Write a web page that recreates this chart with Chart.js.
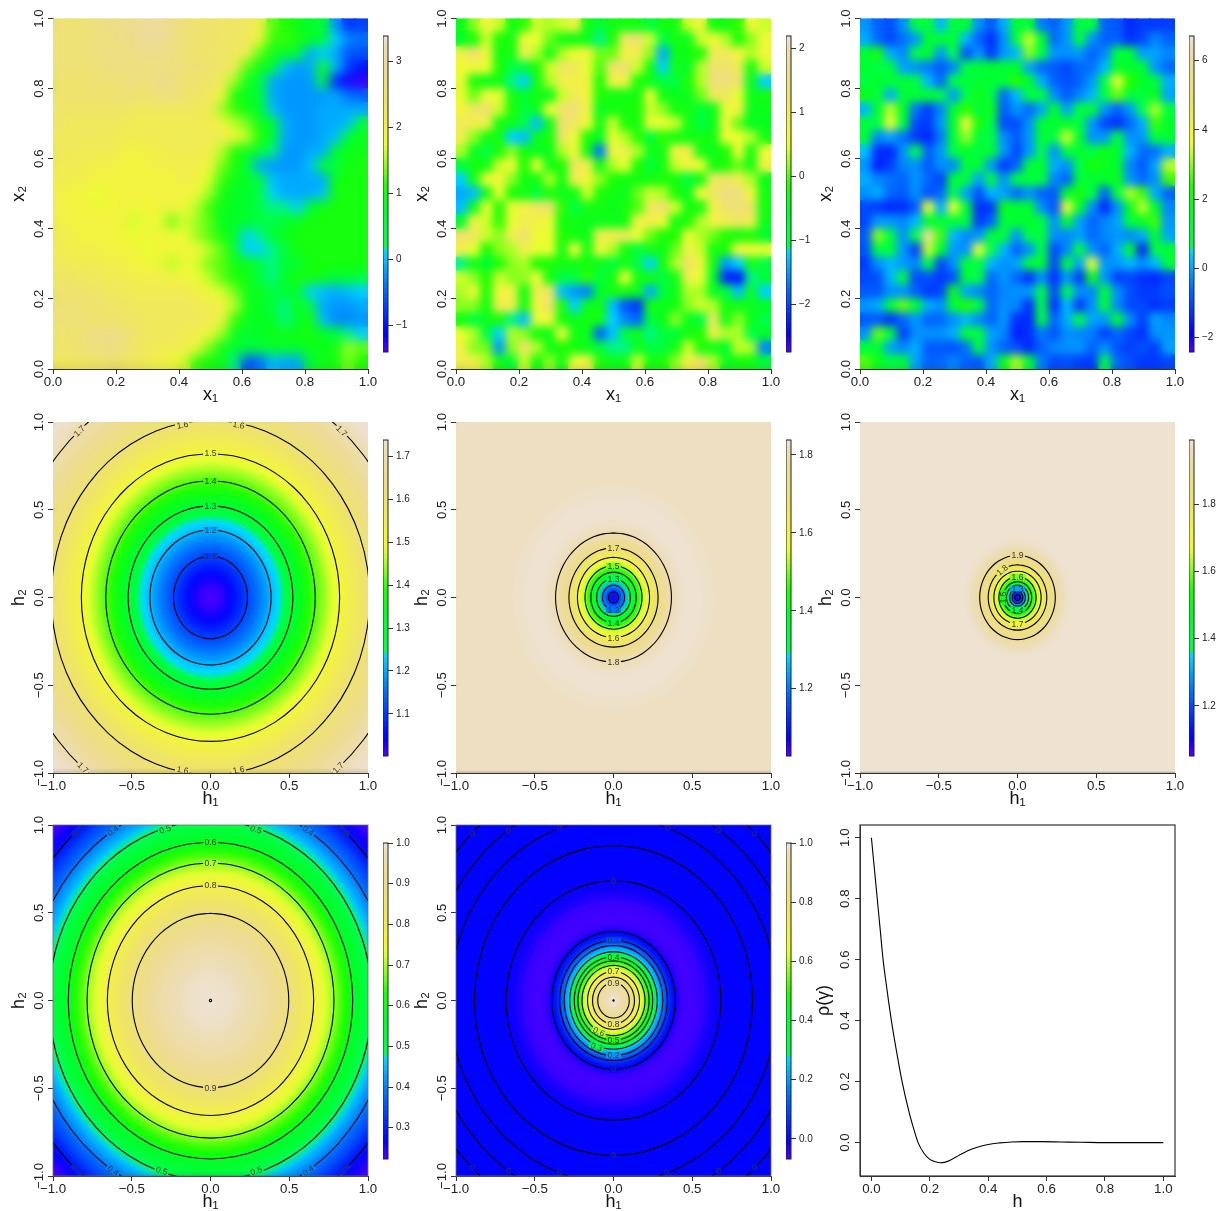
<!DOCTYPE html>
<html>
<head>
<meta charset="utf-8">
<title>Random fields and correlation surfaces</title>
<script src="https://cdn.jsdelivr.net/npm/chart.js@4/dist/chart.umd.js"></script>
<style>
  html, body { margin: 0; background: #fff; }
  #page { position: relative; width: 1222px; height: 1211px; overflow: hidden; }
  canvas { position: absolute; }
</style>
</head>
<body>
<div id="page"></div>
<script>
// colour ramp of the legends: [position, colour]
const rampStops = [
  [0, '#4C00FF'], [0.02, '#3A00FF'], [0.06, '#0000FF'], [0.2, '#006BFF'], [0.332, '#00E0FF'],
  [0.334, '#00FF4D'], [0.45, '#00FF28'], [0.53, '#20FF00'], [0.6, '#90FF20'], [0.66, '#E8FF30'],
  [0.7, '#F2F53C'], [0.8, '#EFE468'], [0.9, '#EDDC90'], [0.97, '#EDDDB2'], [0.984, '#EEDFC2'], [1, '#EEE2D0']
];

// top row: fields, rows from x2=1 down to x2=0
const field1 = [
  [2.6,2.6,2.6,2.7,2.8,2.8,2.9,3.0,3.0,2.8,2.6,2.5,2.5,2.4,2.4,2.3,2.1,1.3,1.1,.9,.7,.6,-.2,-.8,-.7],
  [2.6,2.6,2.6,2.7,2.7,2.8,2.9,3.0,3.0,2.8,2.6,2.5,2.5,2.4,2.4,2.3,1.9,1.2,1.2,1.0,.8,.6,.1,-.3,-.4],
  [2.6,2.6,2.6,2.7,2.7,2.7,2.7,2.8,2.8,2.7,2.6,2.5,2.4,2.4,2.3,2.1,1.3,.9,.8,.5,-.1,.1,-.1,-.6,-.6],
  [2.6,2.6,2.6,2.6,2.7,2.7,2.7,2.7,2.7,2.7,2.6,2.6,2.5,2.4,2.2,1.3,.9,.6,0,-.2,-.1,.9,0,-.7,-1.0],
  [2.5,2.5,2.5,2.6,2.6,2.6,2.7,2.6,2.8,2.8,2.5,2.5,2.4,2.2,1.5,.9,.3,-.1,-.2,-.2,-.2,.3,-.9,-1.2,-1.3],
  [2.5,2.5,2.5,2.5,2.5,2.6,2.6,2.5,2.7,2.7,2.5,2.4,2.3,2.0,1.1,.8,.6,-.1,-.2,-.2,-.2,-.2,-.1,-.4,-.5],
  [2.5,2.4,2.4,2.4,2.4,2.4,2.3,2.3,2.3,2.3,2.3,2.3,2.2,1.5,1.2,.9,.7,0,-.2,-.2,-.2,-.1,-.1,-.1,-.1],
  [2.4,2.3,2.3,2.3,2.3,2.3,2.2,2.2,2.2,2.2,2.2,2.2,2.2,2.0,1.6,1.4,.9,.6,-.1,-.2,-.2,-.1,-.1,0,.5],
  [2.3,2.3,2.3,2.3,2.3,2.2,2.2,2.2,2.2,2.2,2.2,2.2,2.2,2.2,1.9,1.6,1.1,.6,-.1,-.2,-.2,-.1,0,.6,.9],
  [2.3,2.3,2.2,2.2,2.2,2.1,2.0,2.1,2.1,2.2,2.2,2.2,2.1,1.6,1.1,.9,.6,.2,-.2,-.2,-.1,-.1,.7,.9,.9],
  [2.2,2.2,2.2,2.1,2.1,2.0,1.9,2.0,2.1,2.1,2.1,2.1,2.0,1.4,1.1,.4,-.1,-.2,-.2,-.2,0,.7,.3,1,1],
  [2.2,2.2,2.1,2.0,2.0,2.0,2.0,2.0,2.0,2.0,2.1,2.0,1.7,1.2,.9,.8,.3,0,-.1,-.1,-.1,-.1,.9,1,1],
  [2.1,2.0,1.9,1.8,1.9,2.0,2.0,2.0,2.0,2.0,2.0,1.9,1.5,1.0,.8,.7,.3,.1,-.1,-.1,-.1,0,1,1,1],
  [2.1,2.0,2.0,1.9,1.9,2.0,1.9,1.9,2.0,2.0,1.9,1.6,1.2,.9,.8,.7,.3,.2,.2,.1,.6,1,1,1,1],
  [2.1,2.0,2.0,2.0,2.0,2.0,1.7,1.9,1.8,1.4,1.7,1.5,1.3,.8,.8,.7,.4,.3,.7,.9,1,1,1,1,1],
  [2.2,2.1,2.0,2.0,2.0,1.9,1.8,1.9,1.9,1.9,1.8,1.5,1.3,1.0,.7,.1,.2,.6,.9,1,1,1,1,1,1],
  [2.2,2.1,2.1,2.1,2.0,2.0,1.9,1.8,1.9,1.9,1.9,1.9,1.6,1.3,.6,.1,.1,.2,.4,1,1,1,1,1,1],
  [2.3,2.2,2.2,2.2,2.1,2.1,2.0,1.9,1.9,1.6,1.9,1.7,1.4,1.3,.9,.9,.4,.2,.7,.6,1,1,1,1,1],
  [2.4,2.4,2.3,2.3,2.2,2.2,2.1,2.1,2.1,2.0,2.0,1.8,1.6,1.3,1.1,.9,.3,.2,.8,1,1,.9,.5,.7,.3],
  [2.5,2.5,2.5,2.4,2.3,2.3,2.2,2.2,2.2,2.2,2.2,2.1,1.9,1.7,1.4,.9,.9,.3,.6,.7,.1,0,-.1,0,.1],
  [2.6,2.6,2.5,2.5,2.4,2.4,2.3,2.3,2.3,2.3,2.3,2.2,2.2,2.0,1.6,.9,.8,.5,.2,.9,.3,-.1,-.2,-.2,-.1],
  [2.6,2.6,2.6,2.5,2.5,2.4,2.4,2.3,2.3,2.3,2.3,2.3,2.2,2.0,1.2,.9,.8,.8,.2,.7,1.0,0,-.3,-.3,-.2],
  [2.5,2.5,2.6,2.7,2.8,2.7,2.4,2.3,2.3,2.3,2.2,2.1,1.9,1.5,.9,.6,.8,.9,.9,.9,1,.8,.5,.2,.1],
  [2.5,2.5,2.6,2.7,2.8,2.7,2.4,2.3,2.2,2.2,2.1,2.0,1.4,.9,.6,.5,.5,.8,.8,.8,.9,.9,.9,1.5,1.3],
  [2.3,2.3,2.4,2.4,2.5,2.4,2.3,2.2,2.1,1.9,1.7,1.2,1.0,.9,.2,-.6,-.4,0,-.1,-.1,.6,.9,1,1.4,1.1]
];
const field2 = [
  [-.4,.2,.7,.4,-.3,-.1,.4,.3,.4,.8,-.3,-.8,-.3,-.3,-.3,-.9,-.3,-.3,.4,.7,-.3,-.3,-.1,.7,.4],
  [-.5,-.2,.4,-.2,-.3,.6,.5,.1,-.3,-.3,-.4,-1.1,-.2,1.1,1.3,.4,-1.0,-.3,-.4,.4,.6,.3,-.2,.2,.6],
  [.8,1.3,.7,-.3,-.3,.9,.3,-.3,.3,.5,.7,.1,.1,.8,.9,.2,-1.4,-.4,-.3,-.2,1.0,1.0,.7,.3,.7],
  [.6,.7,.5,-.2,-1.0,-.9,-.2,.4,1.1,1.1,.5,0,1.2,1.3,.4,-.3,-1.2,-.3,-.5,.3,1.3,1.3,1.0,-.3,.4],
  [.6,-.2,-.4,-.3,-1.1,-1.2,-.3,.3,.9,.8,.7,-.2,.8,.8,-.2,-.4,-.9,-1.0,-.2,.3,1.4,1.4,1.3,-.4,-1.2],
  [.5,.1,.6,.5,-.3,-.6,-.3,-.4,.4,1.0,.7,-.2,-.3,-.3,-.3,.5,-.3,-.4,-.4,.1,1.0,1.1,.5,-.4,-.3],
  [.7,1.1,1.3,.4,-.2,-.9,-.4,.5,1.2,1.4,.8,-.4,-.3,-.3,-.2,.4,.2,-.3,-.3,-.7,-.4,.5,.8,-.4,-.4],
  [1.0,.9,.8,-.3,-.4,-1.0,-1.3,-.3,1.3,1.1,.6,-.3,.4,-.2,-.3,.5,.5,.4,-.3,-1.0,-.4,.7,.1,-.5,-.4],
  [.9,.2,-.3,-.3,-1.2,-1.3,-.4,-.3,1.2,.6,-.2,-.5,.5,.3,-.1,-.9,-.1,-.3,-.3,-.3,-.3,.6,.5,.3,-.3],
  [.3,-.4,-1.0,-.2,.2,-.3,-.4,-.4,.3,.7,-.3,-1.7,.6,.9,.3,-.4,-.3,.8,.9,-.3,-.4,-.2,.6,-.3,.6],
  [-.9,-.3,-.3,.4,.6,-.2,.5,-.3,-.2,1.1,.9,-.3,.3,.5,-.2,-.8,-.3,.4,.7,.5,-.3,-.2,.1,-.3,.8],
  [-1.2,-.3,.5,.7,.2,-.3,-.3,.3,-.3,.9,.7,.2,-.2,-.3,-.3,-.3,-.2,-.3,-.9,-.3,1.0,1.2,.9,.3,-.4],
  [-1.4,-1.3,-.3,.5,-.2,-.3,-.9,-.2,-.4,-.3,.4,-.2,-.3,-.4,.1,.4,.3,-.2,-.4,.6,1.1,1.5,1.5,.7,-.3],
  [-1.3,-.4,.5,-.2,.6,.8,1.1,1.3,-.1,-1.0,-.3,-.3,-.4,-.3,0,1.0,1.3,.4,-.3,-.3,.8,1.3,1.4,1.2,-.3],
  [-.6,.8,.4,-.1,.5,.9,.8,.6,-.3,-.3,-.4,-.4,-.4,-.3,.8,.9,.6,-.3,-.2,.3,.8,.9,1.1,.9,-.4],
  [1.2,1.1,.4,.2,.9,1.3,.6,.6,-.2,-.3,-.4,.9,.9,1.0,.5,.1,-.2,-.2,.5,.3,.1,-.2,-.3,-.2,-.6],
  [.9,.5,-.2,.2,.3,.9,.5,.5,-.3,.6,-.3,.7,.3,-.3,-.9,-.3,-.4,.1,.8,.4,-.3,-.2,.7,.6,.5],
  [-1.1,-.3,-.7,-.2,.2,.3,-.2,-.2,-.3,-.3,-.3,-.4,-.9,-.3,-1.0,-1.2,-.3,.3,1.2,.7,-.3,-1.5,-1.2,-.3,-1.0],
  [.4,.2,-.2,.4,.2,.2,.6,-.3,-1.0,-.9,-.1,-.9,-.3,.5,-.3,-.3,-.9,-.3,.9,.5,-.5,-2.2,-2.3,-1.1,-.7],
  [.3,.6,-.2,.7,.8,-.3,.9,1.1,-1.3,-1.5,-1.6,-.6,-.3,-.3,-.4,-1.4,-.8,-.4,.3,.3,-.4,-.9,-1.3,-.4,-1.2],
  [.2,.2,-.3,.9,.9,-.3,.7,1.3,-.2,-1.2,-.4,-.3,-1.3,-1.9,-2.1,-.3,-.4,-.3,.2,.4,.3,-.3,-.3,-.4,-.5],
  [-.3,-.9,-.4,-.2,-1.1,-1.3,.5,.7,-.3,-.4,-.3,-.3,-1.2,-1.6,-1.8,-.8,-.4,.2,-.4,-.9,1.1,-.3,.2,-.4,-1.0],
  [.5,.3,-.9,-1.2,.3,.2,-.3,-.3,.6,-.3,-.4,-1.8,-1.3,-.9,-.4,-1.1,-.8,-.7,-.3,-.2,.9,.3,.3,-1.0,-.5],
  [.8,.2,.1,-1.5,.2,1.2,.3,-.3,-.2,-.3,-.4,-.8,-1.1,-1.1,-.4,-.9,-.9,-.3,.4,-.2,-.3,-.6,.4,.3,-1.6],
  [.9,.8,.3,-.3,-.7,.4,-.3,.2,-.3,.6,.8,-.2,-.4,-.3,.4,-.3,-.2,.2,.8,1.2,.3,-.4,-.3,-.3,-.8]
];
const field3 = [
  [-.1,-.7,-.9,-.2,.9,1.2,.2,1.1,1.2,-.2,-.8,.1,1.2,1.3,-.4,-.7,-.1,1.2,.9,-.7,-.8,-1.4,-1.1,-1.2,-1.1],
  [.1,-.6,-1.0,-.5,-.1,1.4,1.3,1.3,.2,-.7,-1.3,-.2,1.1,3.4,1.6,-.6,-.1,1.0,-.2,-.7,-.7,-1.3,-1.0,-.3,-.7],
  [1.3,2.2,.1,-.3,1.0,1.6,-.1,.7,-.9,-.1,-1.2,-.1,.2,3.0,.7,-.1,-.2,-.1,-.7,-.3,1.1,1.4,0,0,-.3],
  [1.4,.8,1.2,0,-.2,-.4,-.8,-.3,.9,1.4,1.5,1.4,1.6,0,-.6,-.8,-1.0,-.6,-.5,.2,1.8,1.5,1.4,-.1,-.6],
  [1.1,1.5,1.2,1.3,.9,.2,-.6,.8,1.2,1.3,1.4,1.3,2.4,1.5,.1,-.7,-.9,-.7,-.1,.9,3.6,2.4,1.6,1.2,.1],
  [2.0,1.3,.1,1.4,1.3,1.4,1.0,-.1,.8,2.0,1.1,-.6,.2,1.0,1.2,-.2,-.8,-.3,.2,1.1,2.8,1.3,1.0,1.8,0],
  [.2,1.5,3.3,1.7,-.5,-1.1,-.3,1.4,2.5,1.2,2.0,-.8,-.1,-.6,0,1.7,0,1.0,1.4,-.1,-.7,-.1,.7,3.2,1.1],
  [1.2,.9,3.7,.9,-1.0,-1.2,-.1,1.6,3.9,2.2,.9,-1.0,-.9,-.2,1.3,1.6,1.5,1.1,-.1,-1.0,-1.3,-.6,.1,2.6,1.5],
  [1.3,-.3,0,-.5,-1.2,-1.4,-.4,1.2,3.1,1.2,.8,-.2,-.8,-.1,1.4,.9,3.4,1.5,-.2,-.1,1.1,-.2,-.1,1.0,1.5],
  [.3,-1.3,-1.4,-.2,.7,-.7,-.1,.9,1.6,1.1,1.6,-.1,-1.0,-.1,.7,-.2,1.2,1.3,1.1,2.0,1.6,.2,-.6,-.5,.1],
  [-.1,-1.5,-1.1,-.3,-.2,-.8,-.2,-.3,1.1,1.3,-.1,-1.2,-.7,1.1,1.6,.1,-.2,.9,2.2,1.9,1.5,-.3,-.8,0,3.3],
  [.1,-.3,-.5,-.7,-.1,-.6,-1.1,1.3,1.1,0,1.2,-.2,.9,1.3,1.1,-.3,-.7,1.2,1.4,1.6,2.0,-.1,-.6,-.2,2.6],
  [-.2,.1,-.6,-.8,-.2,-.9,-.6,.8,0,-.9,.2,0,-.6,-.2,-.7,-.8,1.4,2.2,.9,-.7,1.0,3.2,2.6,.1,-.7],
  [-1.0,-1.2,-1.4,-1.3,-.8,3.6,.1,3.6,1.3,-1.3,-1.2,1.9,1.4,1.5,-.2,-.9,3.9,1.8,-.2,-1.4,-.2,1.8,3.3,1.6,-.3],
  [-1.0,-.1,-.1,-.3,.2,1.6,1.2,1.2,.9,-1.2,-.7,1.2,1.5,1.6,1.0,-.2,1.7,0,-.7,-.3,0,1.2,1.9,2.6,-.1],
  [-.8,3.0,1.0,-.2,.8,6.0,2.6,.2,-.3,-.1,1.2,1.3,-.1,.9,1.2,-.2,-.3,0,-.6,-.3,-.1,-.3,.1,1.4,0],
  [-.9,.9,1.3,-.1,-1.1,3.4,1.5,-.1,-.2,3.7,.7,.2,-.7,-.2,.7,-1.0,-.3,1.0,-.2,-.7,.1,1.6,-1.4,1.0,1.5],
  [-1.2,-.2,.2,-.1,-.3,.9,-1.0,-.2,1.2,1.0,.2,-.2,0,1.2,1.3,-1.0,1.3,0,3.6,-.1,-.1,.2,-.2,.2,1.2],
  [-1.0,-.9,.2,.9,-1.0,-.9,-1.2,-.9,1.3,.8,-.6,-.1,-.6,-1.3,-.2,-1.3,-.1,-1.2,2.0,-.1,-1.1,-1.0,-1.3,-1.4,-1.0],
  [-.8,-.8,-.2,-.2,-.7,-1.2,-1.0,2.0,0,-.3,-.7,-.3,-.2,-.1,1.0,-1.0,.7,-.2,-.3,1.3,-.2,-.9,-1.2,-1.1,-.9],
  [-.1,.1,1.3,2.8,1.4,.1,-.2,1.4,2.4,1.0,-.6,-.2,-.3,-1.3,.7,-1.3,.2,-1.2,-.2,1.2,-.3,-1.0,-1.0,-1.3,-1.1],
  [-.8,-.8,-1.3,-.6,-.1,-.7,-.6,-.2,.2,-.3,-.7,-.1,-1.3,-1.4,.8,-.7,.1,.9,0,-.1,1.5,-.2,-1.1,0,-.3],
  [-.2,2.8,1.0,-1.1,-.2,-.2,-.2,.1,1.4,1.1,0,-.3,-1.5,-1.3,-.4,-.9,-.2,-.3,-.4,-1.1,-.6,-1.0,-1.3,-.2,-.1],
  [1.2,1.5,0,-.3,.1,-.8,-.8,-.9,-.5,.9,-.2,-.7,-.9,-1.4,-.7,-.3,-.2,-.1,-.7,-.2,-.9,-1.1,-.9,-1.1,0],
  [2.7,1.9,1.0,1.2,0,-.7,-.6,-.3,-.7,-.8,.1,1.9,3.2,1.3,-.4,-1.0,-.9,-1.1,-1.2,.7,-.6,-.9,-1.2,-1.2,-1.0]
];

// middle and bottom rows: shaded bands (outer radius, value) and contour radii
const ringX = [0,.1736,.342,.5,.6428,.766,.866,.9397,.9848,1,.9848,.9397,.866,.766,.6428,.5,.342,.1736,0,-.1736,-.342,-.5,-.6428,-.766,-.866,-.9397,-.9848,-1,-.9848,-.9397,-.866,-.766,-.6428,-.5,-.342,-.1736,0];
const ringY = [1,.9848,.9397,.866,.766,.6428,.5,.342,.1736,0,-.1736,-.342,-.5,-.6428,-.766,-.866,-.9397,-.9848,-1,-.9848,-.9397,-.866,-.766,-.6428,-.5,-.342,-.1736,0,.1736,.342,.5,.6428,.766,.866,.9397,.9848,1];

const bandR4 = [1.5,1.4,1.35,1.3,1.25,1.2,1.15,1.1,1.05,1,.95,.9,.85,.8,.76,.72,.68,.64,.6,.56,.52,.48,.452,.44,.4,.36,.32,.28,.24,.2,.16,.12,.08,.04];
const bandV4 = [1.738,1.735,1.725,1.712,1.695,1.675,1.655,1.635,1.615,1.595,1.57,1.545,1.518,1.488,1.46,1.435,1.41,1.382,1.355,1.328,1.298,1.268,1.245,1.238,1.21,1.182,1.156,1.13,1.103,1.078,1.055,1.035,1.02,1.008];
const contourR4 = [.235,.385,.523,.665,.82,1.01,1.265];
const contourText4 = [[0,.235,'1.1',0],[0,.385,'1.2',0],[0,.523,'1.3',0],[0,.665,'1.4',0],[0,.82,'1.5',0],
  [-.178,.983,'1.6',-10],[.178,.983,'1.6',10],[-.178,-.983,'1.6',10],[.178,-.983,'1.6',-10],
  [-.833,.949,'1.7',-45],[.833,.949,'1.7',45],[-.81,-.97,'1.7',45],[.81,-.97,'1.7',-45]];

const bandR5 = [1.5,.635,.6,.57,.52,.48,.44,.41,.38,.35,.33,.31,.29,.27,.25,.23,.21,.19,.17,.15,.13,.11,.09,.07,.05,.03,.015];
const bandV5 = [1.825,1.83,1.832,1.836,1.838,1.837,1.83,1.82,1.805,1.785,1.765,1.745,1.715,1.68,1.645,1.605,1.56,1.52,1.46,1.415,1.365,1.31,1.255,1.2,1.15,1.09,1.05];
const contourR5 = [.032,.07,.107,.144,.181,.229,.283,.368];
const contourText5 = [[0,-.07,'1.2',0],[0,.107,'1.3',0],[0,-.144,'1.4',0],[0,.181,'1.5',0],[0,-.229,'1.6',0],[0,.283,'1.7',0],[0,-.368,'1.8',0]];

const bandR6 = [1.5,.34,.32,.3,.28,.26,.25,.23,.21,.19,.17,.15,.135,.12,.105,.09,.08,.07,.06,.05,.04,.03,.02,.01];
const bandV6 = [1.991,1.985,1.978,1.968,1.955,1.935,1.915,1.885,1.85,1.81,1.765,1.7,1.655,1.605,1.55,1.5,1.45,1.4,1.35,1.3,1.24,1.18,1.11,1.07];
const contourR6 = [.018,.034,.05,.07,.09,.118,.15,.186,.24];
const contourText6 = [[0,.05,'1.3',0],[0,-.07,'1.4',0],[-.09,0,'1.5',-90],[0,.118,'1.6',0],[0,-.15,'1.7',0],[-.097,.156,'1.8',-40],[0,.24,'1.9',0]];

const bandR7 = [1.5,1.41,1.38,1.35,1.32,1.29,1.26,1.23,1.2,1.17,1.14,1.11,1.08,1.05,1.02,.99,.96,.93,.9,.87,.84,.81,.78,.75,.72,.69,.66,.62,.58,.54,.5,.46,.42,.38,.34,.3,.26,.22,.18,.14,.1,.06,.03];
const bandV7 = [.224,.228,.245,.262,.28,.298,.32,.345,.365,.385,.41,.435,.46,.482,.505,.53,.555,.578,.603,.63,.655,.68,.703,.728,.752,.776,.797,.822,.845,.868,.888,.91,.925,.94,.953,.965,.974,.981,.987,.992,.995,.998,1];
const contourR7 = [.007,.497,.655,.784,.903,1.025,1.15,1.287];
const contourText7 = [[0,-.497,'0.9',0],[0,.655,'0.8',0],[0,.784,'0.7',0],[0,.903,'0.6',0],
  [-.288,.975,'0.5',-17],[.288,.975,'0.5',17],[-.31,-.97,'0.5',17],[.29,-.97,'0.5',-17],
  [-.619,.968,'0.4',-35],[.62,.968,'0.4',35],[-.62,-.97,'0.4',35],[.62,-.97,'0.4',-35],
  [-.847,.966,'0.3',-45],[.847,.966,'0.3',45],[-.847,-.966,'0.3',45],[.847,-.966,'0.3',-45]];

const bandR8 = [1.5,.95,.88,.82,.76,.7,.66,.62,.58,.54,.5,.46,.43,.41,.393,.38,.365,.35,.335,.32,.305,.29,.275,.26,.245,.23,.215,.2,.185,.17,.155,.14,.125,.11,.095,.08,.06,.04,.02];
const bandV8 = [-.001,-.001,-.001,-.002,-.004,-.006,-.012,-.025,-.04,-.05,-.052,-.05,-.035,-.018,0,.02,.05,.08,.125,.175,.225,.265,.31,.36,.415,.485,.54,.6,.66,.695,.74,.78,.825,.87,.905,.935,.965,.985,.997];
const contourR8 = [.004,.1,.133,.165,.2,.226,.249,.278,.313,.342,.393,.682,.883,1.041,1.18,1.31];
const contourText8 = [[0,.1,'0.9',0],[0,-.133,'0.8',0],[0,.165,'0.7',0],[-.093,-.178,'0.6',25],[0,-.226,'0.5',0],[0,.249,'0.4',0],
  [-.108,-.264,'0.3',20],[0,-.313,'0.2',0],[0,.342,'0.1',0],[0,-.393,'0',0],[0,.682,'0',0],[0,-.883,'0',0],
  [-.343,.983,'0',-15],[.343,.983,'0',15],[-.343,-.98,'0',15],[.337,-.98,'0',-15],
  [-.667,.97,'0',-35],[.667,.97,'0',35],[-.667,-.97,'0',35],[.667,-.97,'0',-35],
  [-.894,.951,'0',-45],[.894,.951,'0',45],[-.894,-.951,'0',45],[.894,-.951,'0',-45]];

// correlation curve, bottom right
const curveH = [0,.01,.02,.03,.04,.05,.06,.07,.085,.104,.129,.145,.16,.18,.2,.22,.235,.25,.27,.3,.33,.36,.4,.44,.48,.52,.58,.65,.72,.8,.9,1];
const curveRho = [1,.9,.8,.7,.6,.525,.455,.39,.305,.205,.1,.045,0,-.035,-.055,-.063,-.066,-.065,-.058,-.042,-.027,-.016,-.006,-.001,.002,.003,.003,.002,.001,0,0,0];

// legend ranges and ticks
const legendRange = [[-1.41,3.39],[-2.75,2.19],[-2.415,6.71],[1.0016,1.739],[1.027,1.8385],[1.051,1.991],[.223,1],[-.068,1]];
const legendTicks = [[-1,0,1,2,3],[-2,-1,0,1,2],[-2,0,2,4,6],[1.1,1.2,1.3,1.4,1.5,1.6,1.7],[1.2,1.4,1.6,1.8],[1.2,1.4,1.6,1.8],[.3,.4,.5,.6,.7,.8,.9,1],[0,.2,.4,.6,.8,1]];
const legendDigits = [0,0,0,1,1,1,1,1];

const unitTicks = [0,.2,.4,.6,.8,1];
const lagTicks = [-1,-.5,0,.5,1];

const colLeft = [52.5,455.5,859.5];
const rowTop = [18,421.5,825];
const legendLeft = [383,786,1189];
const plotW = 315, plotH = 351;
const textFont = '"Liberation Sans", Arial, sans-serif';
const inkColor = '#222';

Chart.defaults.font.family = textFont;
Chart.defaults.animation = false;
Chart.defaults.events = [];
Chart.defaults.plugins.legend.display = false;
Chart.defaults.plugins.tooltip.enabled = false;

const hexToRgb = h => [1, 3, 5].map(i => parseInt(h.slice(i, i + 2), 16));
const palette = [];
for (let i = 0; i < 256; i++) {
  const t = i / 255;
  let k = 0;
  while (k < rampStops.length - 2 && rampStops[k + 1][0] < t) k++;
  const [p0, c0] = rampStops[k], [p1, c1] = rampStops[k + 1];
  const f = Math.min(1, Math.max(0, (t - p0) / (p1 - p0)));
  const a = hexToRgb(c0), b = hexToRgb(c1);
  palette.push('rgb(' + a.map((v, n) => Math.round(v + (b[n] - v) * f)).join(',') + ')');
}
// the legends show 64 steps of it
const legendColors = palette.filter((c, i) => i % 4 === 2);
const colorOf = (v, range) => {
  const f = (v - range[0]) / (range[1] - range[0]);
  return palette[Math.max(0, Math.min(255, Math.floor(f * 256)))];
};
const minusSign = s => s.replace('-', '\u2212');

function addCanvas(left, top, w, h) {
  const c = document.createElement('canvas');
  c.width = w; c.height = h;
  c.style.left = left + 'px'; c.style.top = top + 'px';
  document.getElementById('page').appendChild(c);
  return c;
}

// softens what has been drawn so far inside the plot, cells and bands only
const softCells = {
  id: 'softCells',
  afterDatasetDraw(chart, args) {
    const b = chart.data.datasets[args.index].soften;
    if (!b) return;
    const a = chart.chartArea, ctx = chart.ctx;
    ctx.save();
    ctx.beginPath();
    ctx.rect(a.left, a.top, a.width, a.height);
    ctx.clip();
    ctx.filter = 'blur(' + b + 'px)';
    ctx.drawImage(chart.canvas, 0, 0);
    ctx.restore();
  }
};

// R style box
const framePlugin = (color, width) => ({
  id: 'frame',
  afterDraw(chart) {
    const a = chart.chartArea, ctx = chart.ctx;
    ctx.save();
    ctx.strokeStyle = color;
    ctx.lineWidth = width;
    ctx.strokeRect(a.left, a.top, a.width, a.height);
    ctx.restore();
  }
});

// contour labels sit on a small patch of the band colour, like the gap in the line
const contourLabelPlugin = (items, range) => ({
  id: 'contourLabels',
  afterDatasetsDraw(chart) {
    const {ctx, chartArea: a, scales} = chart;
    ctx.save();
    ctx.beginPath();
    ctx.rect(a.left, a.top, a.width, a.height);
    ctx.clip();
    ctx.font = '8.5px ' + textFont;
    ctx.textAlign = 'center';
    ctx.textBaseline = 'middle';
    items.forEach(([x, y, text, angle]) => {
      ctx.save();
      ctx.translate(scales.x.getPixelForValue(x), scales.y.getPixelForValue(y));
      ctx.rotate(angle * Math.PI / 180);
      const w = ctx.measureText(text).width + 3;
      ctx.fillStyle = colorOf(parseFloat(text), range);
      ctx.fillRect(-w / 2, -3, w, 6);
      ctx.fillStyle = '#333';
      ctx.fillText(text, 0, 0.5);
      ctx.restore();
    });
    ctx.restore();
  }
});

function axes(xr, yr, xTicks, yTicks, xTitle, yTitle, yPad) {
  const fmt = v => minusSign(v.toFixed(1));
  const common = {
    type: 'linear',
    grid: {drawOnChartArea: false, drawTicks: true, tickLength: 5, color: '#333'},
    border: {display: true, color: '#333', width: 1}
  };
  return {
    x: {...common, min: xr[0], max: xr[1],
      title: {display: true, text: xTitle, color: '#111', font: {size: 18}, padding: {top: 0, bottom: 1}},
      ticks: {color: inkColor, font: {size: 13.3}, padding: 0, maxRotation: 0, minRotation: 0, autoSkip: false, callback: fmt},
      afterBuildTicks: s => { s.ticks = xTicks.map(v => ({value: v})); },
      afterFit: s => { s.height = 38; s.paddingLeft = 0; s.paddingRight = 0; }},
    y: {...common, min: yr[0], max: yr[1],
      title: {display: true, text: yTitle, color: '#111', font: {size: 18}, padding: {top: 7, bottom: 0}},
      ticks: {color: inkColor, font: {size: 13.3}, padding: yPad, minRotation: 90, maxRotation: 90, crossAlign: 'center', autoSkip: false, callback: fmt},
      afterBuildTicks: s => { s.ticks = yTicks.map(v => ({value: v})); },
      afterFit: s => { s.width = 52; s.paddingTop = 0; s.paddingBottom = 0; }}
  };
}

function panelChart(col, row, datasets, scales, plugins) {
  const canvas = addCanvas(colLeft[col] - 52, rowTop[row] - 10, 52 + plotW + 16, 10 + plotH + 38);
  return new Chart(canvas, {
    type: 'line',
    data: {datasets},
    options: {responsive: false, devicePixelRatio: 1, animation: false, scales,
      layout: {padding: {left: 0, right: 16, top: 10, bottom: 0}}},
    plugins: plugins || []
  });
}

function legendChart(col, row, idx) {
  const range = legendRange[idx];
  const step = (range[1] - range[0]) / 64;
  const barTop = Math.round(rowTop[row]) + 18;
  // the third column's labels run off the right edge of the figure
  const w = Math.min(45 + 5, 1216 - legendLeft[col]);
  const canvas = addCanvas(legendLeft[col], barTop - 6, w, 316 + 12);
  new Chart(canvas, {
    type: 'bar',
    data: {labels: [''], datasets: legendColors.map((c, i) => ({
      data: [[range[0] + i * step, range[0] + (i + 1) * step + step * 0.3]],
      backgroundColor: c, borderWidth: 0, grouped: false, barPercentage: 1, categoryPercentage: 1, order: -i
    }))},
    options: {responsive: false, devicePixelRatio: 1, animation: false,
      layout: {padding: {left: 0, right: 0, top: 6, bottom: 6}},
      scales: {
        x: {display: false},
        y: {position: 'right', min: range[0], max: range[1], type: 'linear',
          grid: {drawOnChartArea: false, tickLength: 5, color: '#333'},
          border: {display: false},
          ticks: {color: inkColor, font: {size: 10}, padding: 3, autoSkip: false,
            callback: v => minusSign(v.toFixed(legendDigits[idx]))},
          afterBuildTicks: s => { s.ticks = legendTicks[idx].map(v => ({value: v})); },
          afterFit: s => { s.width = w - 5; s.paddingTop = 0; s.paddingBottom = 0; }}
      }},
    plugins: [framePlugin('#222', 1)]
  });
}

function cellDataset(rows, range, soften, radius) {
  const points = [], colors = [];
  rows.forEach((row, i) => row.forEach((v, j) => {
    points.push({x: (j + 0.5) / row.length, y: 1 - (i + 0.5) / rows.length});
    colors.push(colorOf(v, range));
  }));
  return {type: 'scatter', data: points, pointStyle: 'rect', pointRadius: radius, pointBackgroundColor: colors,
    pointBorderWidth: 0, showLine: false, soften, order: 5};
}

const ringPoints = r => ringX.map((x, i) => ({x: x * r, y: ringY[i] * r}));

function ringDatasets(bandR, bandV, contourR, range, soften) {
  const bands = bandR.map((r, i) => ({
    data: ringPoints(r), backgroundColor: colorOf(bandV[i], range), fill: 'shape',
    borderWidth: 0, pointRadius: 0, tension: 0.4, capBezierPoints: false, order: 1000 - i,
    soften: i === bandR.length - 1 ? soften : 0
  }));
  const lines = contourR.map(r => ({
    data: ringPoints(r), borderColor: '#000', borderWidth: 1.1, fill: false,
    pointRadius: 0, tension: 0.4, capBezierPoints: false, order: 0
  }));
  return bands.concat(lines);
}

function ringPanel(col, row, idx, bandR, bandV, contourR, labels, soften) {
  const range = legendRange[idx];
  const plugins = [softCells, contourLabelPlugin(labels, range)];
  if (row === 2) plugins.push(framePlugin('rgba(110,110,110,0.8)', 1));
  panelChart(col, row, ringDatasets(bandR, bandV, contourR, range, soften),
    axes([-1, 1], [-1, 1], lagTicks, lagTicks, 'h\u2081', 'h\u2082', -4.7), plugins);
  legendChart(col, row, idx);
}

// top row
panelChart(0, 0, [cellDataset(field1, legendRange[0], 6, 10.5)], axes([0, 1], [0, 1], unitTicks, unitTicks, 'x\u2081', 'x\u2082', -0.7), [softCells]);
legendChart(0, 0, 0);
panelChart(1, 0, [cellDataset(field2, legendRange[1], 4, 10.5)], axes([0, 1], [0, 1], unitTicks, unitTicks, 'x\u2081', 'x\u2082', -0.7), [softCells]);
legendChart(1, 0, 1);
panelChart(2, 0, [cellDataset(field3, legendRange[2], 4, 10.5)], axes([0, 1], [0, 1], unitTicks, unitTicks, 'x\u2081', 'x\u2082', -0.7), [softCells]);
legendChart(2, 0, 2);

// middle row
ringPanel(0, 1, 3, bandR4, bandV4, contourR4, contourText4, 2.5);
ringPanel(1, 1, 4, bandR5, bandV5, contourR5, contourText5, 1.5);
ringPanel(2, 1, 5, bandR6, bandV6, contourR6, contourText6, 1);

// bottom row
ringPanel(0, 2, 6, bandR7, bandV7, contourR7, contourText7, 2.5);
ringPanel(1, 2, 7, bandR8, bandV8, contourR8, contourText8, 1.5);

const curveScales = axes([-.0391, 1.0401], [-.1096, 1.0417], unitTicks, unitTicks, 'h', '\u03C1(\u03B3)', 0);
curveScales.y.title.padding = {top: 5, bottom: 0};
panelChart(2, 2, [{
  data: curveH.map((h, i) => ({x: h, y: curveRho[i]})),
  borderColor: '#000', borderWidth: 1.1, pointRadius: 0, cubicInterpolationMode: 'monotone', fill: false
}], curveScales, [framePlugin('#333', 1.2)]);
</script>
</body>
</html>
